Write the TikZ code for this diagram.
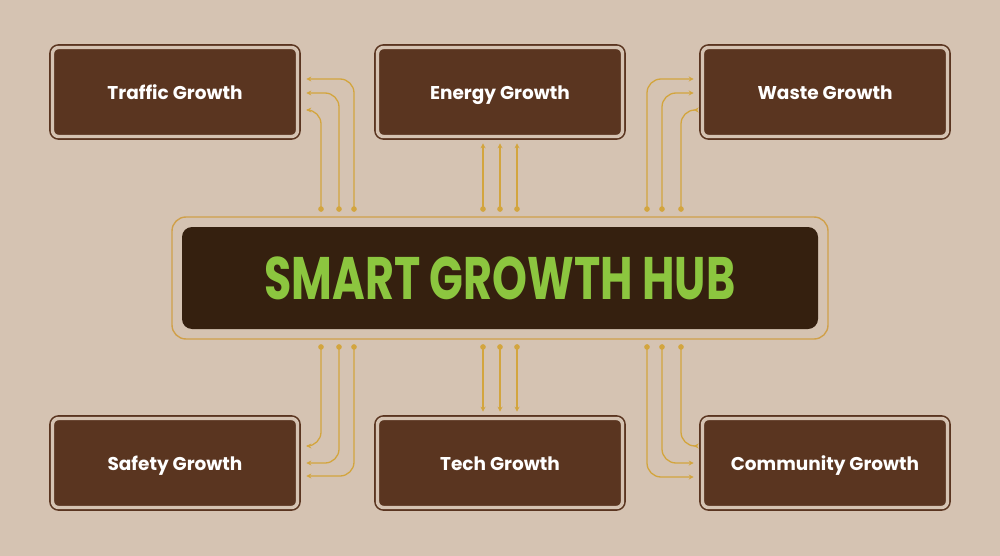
\documentclass[tikz,border=0pt]{standalone}
\usepackage{fontspec}
\setmainfont{Poppins}
\usetikzlibrary{arrows.meta}

\definecolor{bgtan}{HTML}{D5C3B2}
\definecolor{boxbrown}{HTML}{5A3520}
\definecolor{hubbrown}{HTML}{35200F}
\definecolor{framegold}{HTML}{D0A04A}
\definecolor{linkgold}{HTML}{D3A53E}
\definecolor{hubgreen}{HTML}{8CC63F}

\begin{document}
\begin{tikzpicture}[x=1pt, y=-1pt, node distance=325pt, thick,
  main node/.style={fill=boxbrown, draw=boxbrown, line width=1.6pt, double=bgtan, double distance=3.4pt, rounded corners=6pt, minimum width=245pt, minimum height=89pt, inner sep=0pt, text height=15pt, text depth=0pt, text=white, font=\bfseries\fontsize{18.5}{20}\selectfont},
  hub node/.style={fill=hubbrown, rounded corners=10pt, minimum width=636pt, minimum height=102pt, inner sep=0pt, text height=42pt, text depth=0pt, text=hubgreen, font=\bfseries\fontsize{60}{62}\selectfont},
  frame node/.style={draw=framegold, line width=1.4pt, rounded corners=14pt, minimum width=656pt, minimum height=122pt, inner sep=0pt},
  link/.style={draw=linkgold, line width=1.3pt, rounded corners=14pt, {Circle[length=5.5pt]}-{Stealth[length=5pt, width=5pt]}}]
  \useasboundingbox[fill=bgtan] (0,0) rectangle (1000,556);

  \node[main node] (traffic) at (175,92) {Traffic Growth};
  \node[main node] (energy) [right of=traffic] {Energy Growth};
  \node[main node] (waste) [right of=energy] {Waste Growth};
  \node[main node] (safety) at (175,463) {Safety Growth};
  \node[main node] (tech) [right of=safety] {Tech Growth};
  \node[main node] (community) [right of=tech] {Community Growth};

  \node[hub node] (hub) at (500,278) {\scalebox{0.74}[1]{SMART GROWTH HUB}};
  \node[frame node] (frame) at (hub) {};

  % top left
  \draw[link] ([xshift=-146pt, yshift=4.5pt]frame.north) |- ([xshift=8pt, yshift=13pt]traffic.east);
  \draw[link] ([xshift=-161pt, yshift=4.5pt]frame.north) |- ([xshift=8pt, yshift=-1pt]traffic.east);
  \draw[link] ([xshift=-179pt, yshift=4.5pt]frame.north) |- ([xshift=8pt, yshift=-18pt]traffic.east);
  % top middle
  \draw[link] ([xshift=-17pt, yshift=4.5pt]frame.north) -- ([xshift=-17pt, yshift=-6pt]energy.south);
  \draw[link] ([yshift=4.5pt]frame.north) -- ([yshift=-6pt]energy.south);
  \draw[link] ([xshift=17pt, yshift=4.5pt]frame.north) -- ([xshift=17pt, yshift=-6pt]energy.south);
  % top right
  \draw[link] ([xshift=147pt, yshift=4.5pt]frame.north) |- ([xshift=-8pt, yshift=13pt]waste.west);
  \draw[link] ([xshift=162pt, yshift=4.5pt]frame.north) |- ([xshift=-8pt, yshift=-1pt]waste.west);
  \draw[link] ([xshift=181pt, yshift=4.5pt]frame.north) |- ([xshift=-8pt, yshift=-18pt]waste.west);
  % bottom left
  \draw[link] ([xshift=-179pt, yshift=-4.5pt]frame.south) |- ([xshift=8pt, yshift=17pt]safety.east);
  \draw[link] ([xshift=-161pt, yshift=-4.5pt]frame.south) |- ([xshift=8pt, yshift=0pt]safety.east);
  \draw[link] ([xshift=-146pt, yshift=-4.5pt]frame.south) |- ([xshift=8pt, yshift=-13pt]safety.east);
  % bottom middle
  \draw[link] ([xshift=-17pt, yshift=-4.5pt]frame.south) -- ([xshift=-17pt, yshift=6pt]tech.north);
  \draw[link] ([yshift=-4.5pt]frame.south) -- ([yshift=6pt]tech.north);
  \draw[link] ([xshift=17pt, yshift=-4.5pt]frame.south) -- ([xshift=17pt, yshift=6pt]tech.north);
  % bottom right
  \draw[link] ([xshift=181pt, yshift=-4.5pt]frame.south) |- ([xshift=-8pt, yshift=17pt]community.west);
  \draw[link] ([xshift=162pt, yshift=-4.5pt]frame.south) |- ([xshift=-8pt, yshift=0pt]community.west);
  \draw[link] ([xshift=147pt, yshift=-4.5pt]frame.south) |- ([xshift=-8pt, yshift=-14pt]community.west);
\end{tikzpicture}
\end{document}
